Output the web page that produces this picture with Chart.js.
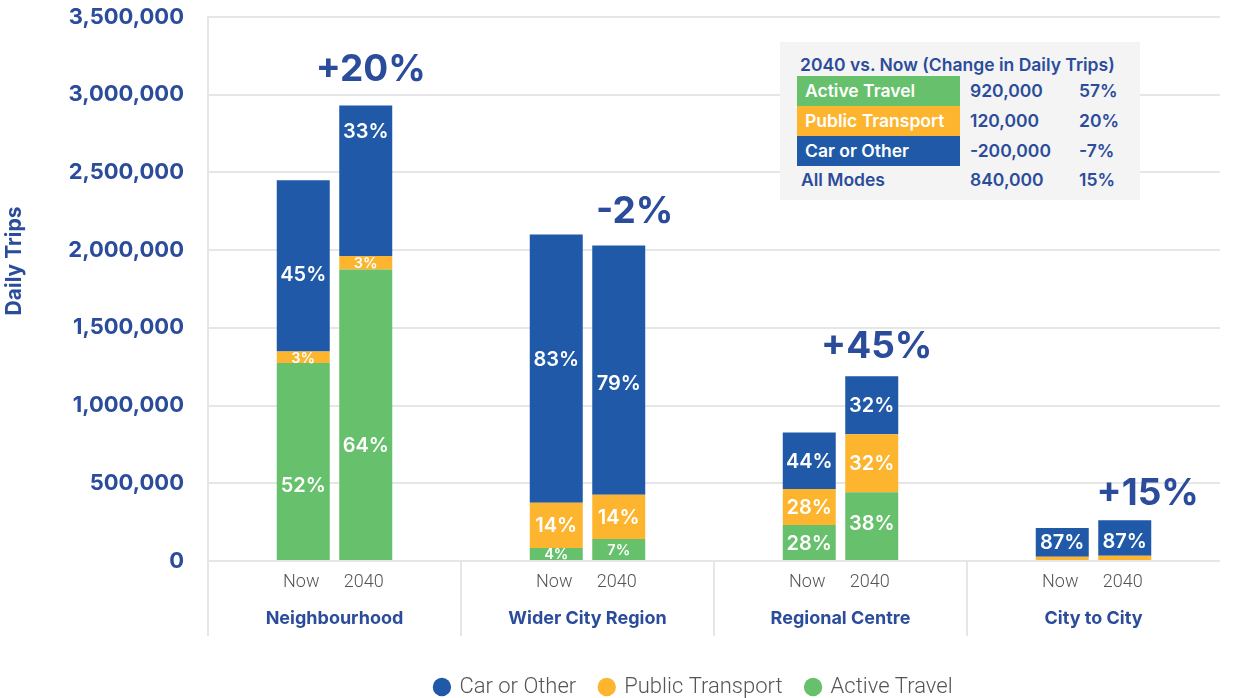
<!DOCTYPE html>
<html>
<head>
<meta charset="utf-8">
<title>Daily Trips by Journey Type</title>
<script src="https://cdn.jsdelivr.net/npm/chart.js@4.4.1/dist/chart.umd.min.js"></script>
<style>
  html, body { margin: 0; padding: 0; background: #ffffff; }
  #wrap { position: relative; width: 1235px; height: 698px; overflow: hidden; }
  #chart { position: absolute; left: 0; top: 0; }
  #summary {
    position: absolute; left: 780px; top: 42px; width: 360px; height: 158px;
    background: #f4f4f4; font-family: Inter, "Noto Sans", sans-serif;
    font-weight: 600; font-size: 17.5px; color: #2b4c9b;
  }
  #summary .title { position: absolute; left: 20px; top: 12px; white-space: nowrap; }
  #summary .row { position: absolute; left: 0; width: 360px; height: 30px; line-height: 30px; }
  #summary .mode { position: absolute; left: 17px; width: 163px; height: 100%; padding-left: 8px; box-sizing: border-box; color: #ffffff; }
  #summary .mode.plain { color: #2b4c9b; padding-left: 4px; }
  #summary .num { position: absolute; left: 190px; }
  #summary .pct { position: absolute; left: 299px; }
</style>
</head>
<body>
<div id="wrap">
  <canvas id="chart" width="1235" height="698"></canvas>
  <div id="summary"></div>
</div>
<script>
// ---- data ----
const categories = ['Neighbourhood', 'Wider City Region', 'Regional Centre', 'City to City'];
const periods = ['Now', '2040'];

// total daily trips per journey type
const totalsNow  = [2450000, 2080000, 826000, 212000];
const totals2040 = [2930000, 2030000, 1165000, 262000];

// mode share of each total (%)
const activeShareNow  = [52, 4, 28, 0];
const publicShareNow  = [3, 14, 28, 13];
const carShareNow     = [45, 83, 44, 87];
const activeShare2040 = [64, 7, 38, 0];
const publicShare2040 = [3, 14, 32, 13];
const carShare2040    = [33, 79, 32, 87];

// overall change per journey type, 2040 vs now
const changeLabels = ['+20%', '-2%', '+45%', '+15%'];

const yTickValues = [0, 500000, 1000000, 1500000, 2000000, 2500000, 3000000, 3500000];

// summary table: 2040 vs. Now
const summaryTitle = '2040 vs. Now (Change in Daily Trips)';
const summaryModes = ['Active Travel', 'Public Transport', 'Car or Other', 'All Modes'];
const summaryChange = [920000, 120000, -200000, 840000];
const summaryChangePct = [57, 20, -7, 15];

// ---- styling ----
const COLORS = { car: '#1f59a7', pt: '#fdb52f', active: '#67c06b' };
const TEXT_BLUE = '#2b4c9b';
const GRID = '#e6e6e6';

// vertical nudges (px) for share labels inside the taller segments
const shareLabelNudge = {
  'Active Travel|Now':     [23, 0, 0, 0],
  'Public Transport|Now':  [0, 0, 0, 0],
  'Car or Other|Now':      [8, -10, 0, 0],
  'Active Travel|2040':    [30, 0, -3, 0],
  'Public Transport|2040': [0, 0, 0, 0],
  'Car or Other|2040':     [-50, 13, 0, 3]
};
const changeLabelDx = [5, 16, 5, 23];
const changeLabelGap = [25, 22, 18, 15];
const legendShift = 84;

const segment = (totals, shares) => totals.map((t, i) => t * shares[i] / 100);

function makeDataset(label, period, totals, shares, color) {
  return {
    label: label,
    stack: period,
    period: period,
    shares: shares,
    data: segment(totals, shares),
    backgroundColor: color,
    borderWidth: 0,
    categoryPercentage: 0.494,
    barPercentage: 0.848
  };
}

const datasets = [
  makeDataset('Active Travel', 'Now', totalsNow, activeShareNow, COLORS.active),
  makeDataset('Public Transport', 'Now', totalsNow, publicShareNow, COLORS.pt),
  makeDataset('Car or Other', 'Now', totalsNow, carShareNow, COLORS.car),
  makeDataset('Active Travel', '2040', totals2040, activeShare2040, COLORS.active),
  makeDataset('Public Transport', '2040', totals2040, publicShare2040, COLORS.pt),
  makeDataset('Car or Other', '2040', totals2040, carShare2040, COLORS.car)
];

// share (%) labels inside each segment, "Now"/"2040" under each bar,
// change labels above the 2040 bars and the rotated y-axis title
const annotations = {
  id: 'annotations',
  afterLayout(chart) {
    // move the legend row to sit under the middle of the bar groups
    if (chart.legend) {
      chart.legend.left += legendShift;
      chart.legend.right += legendShift;
    }
  },
  afterDatasetsDraw(chart) {
    const ctx = chart.ctx;
    ctx.save();
    ctx.textAlign = 'center';
    ctx.textBaseline = 'middle';
    chart.data.datasets.forEach((ds, di) => {
      const meta = chart.getDatasetMeta(di);
      const nudges = shareLabelNudge[ds.label + '|' + ds.period] || [];
      meta.data.forEach((bar, i) => {
        const share = ds.shares[i];
        const h = Math.abs(bar.base - bar.y);
        if (!share || h < 8) return;
        const small = h < 24;
        ctx.font = (small ? '600 14.5px' : '600 20px') + ' Inter, sans-serif';
        ctx.fillStyle = '#ffffff';
        ctx.fillText(share + '%', bar.x, (bar.y + bar.base) / 2 + 1 + (nudges[i] || 0));
      });
    });

    // period labels under the bars
    const area = chart.chartArea;
    ctx.font = '300 18px Roboto, sans-serif';
    ctx.fillStyle = '#555555';
    [0, 3].forEach((di) => {
      const meta = chart.getDatasetMeta(di);
      meta.data.forEach((bar) => {
        ctx.fillText(chart.data.datasets[di].period, bar.x - 2, area.bottom + 21);
      });
    });

    // change labels above the 2040 stacks
    const top2040 = chart.getDatasetMeta(5);
    ctx.font = '700 37px Inter, sans-serif';
    ctx.fillStyle = TEXT_BLUE;
    ctx.textBaseline = 'alphabetic';
    top2040.data.forEach((bar, i) => {
      ctx.fillText(changeLabels[i], bar.x + changeLabelDx[i], bar.y - changeLabelGap[i]);
    });

    // y-axis title
    ctx.translate(15, 261);
    ctx.rotate(-Math.PI / 2);
    ctx.textBaseline = 'middle';
    ctx.font = '700 21px Inter, sans-serif';
    ctx.fillText('Daily Trips', 0, 0);
    ctx.restore();
  }
};

new Chart(document.getElementById('chart'), {
  type: 'bar',
  data: { labels: categories, datasets: datasets },
  plugins: [annotations],
  options: {
    responsive: false,
    animation: false,
    layout: { padding: { top: 17, right: 15, left: 0, bottom: -10 } },
    plugins: {
      tooltip: { enabled: false },
      legend: {
        position: 'bottom',
        labels: {
          usePointStyle: true,
          pointStyle: 'circle',
          boxWidth: 13,
          boxHeight: 13,
          padding: 24,
          color: '#555555',
          font: { family: 'Roboto', weight: '300', size: 22 },
          filter: (item) => item.datasetIndex < 3,
          sort: (a, b) => b.datasetIndex - a.datasetIndex
        }
      }
    },
    scales: {
      x: {
        stacked: true,
        grid: {
          offset: true,
          drawOnChartArea: false,
          drawTicks: true,
          tickLength: 75,
          lineWidth: 2,
          color: (c) => (c.tick ? GRID : 'rgba(0,0,0,0)')
        },
        border: { display: false },
        ticks: {
          padding: -28,
          color: TEXT_BLUE,
          font: { family: 'Inter', weight: '700', size: 18 }
        },
        afterFit: (scale) => { scale.height = 91; }
      },
      y: {
        stacked: true,
        min: 0,
        max: 3500000,
        afterBuildTicks: (scale) => { scale.ticks = yTickValues.map((v) => ({ value: v })); },
        grid: {
          color: GRID,
          lineWidth: 2,
          drawTicks: true,
          tickLength: 24,
          tickColor: 'rgba(0,0,0,0)'
        },
        border: { display: true, color: GRID, width: 2 },
        ticks: {
          padding: 0,
          color: TEXT_BLUE,
          font: { family: 'Inter', weight: '700', size: 22 },
          callback: (v) => Number(v).toLocaleString('en-US')
        },
        afterFit: (scale) => { scale.width = 208; }
      }
    }
  }
});

// summary table
const summary = document.getElementById('summary');
const title = document.createElement('div');
title.className = 'title';
title.textContent = summaryTitle;
summary.appendChild(title);
const rowColors = [COLORS.active, COLORS.pt, COLORS.car, null];
const rowTops = [34, 64, 94, 123];
summaryModes.forEach((m, i) => {
  const row = document.createElement('div');
  row.className = 'row';
  row.style.top = rowTops[i] + 'px';
  const mode = document.createElement('div');
  mode.className = 'mode' + (rowColors[i] ? '' : ' plain');
  if (rowColors[i]) mode.style.background = rowColors[i];
  mode.textContent = m;
  const num = document.createElement('div');
  num.className = 'num';
  num.textContent = summaryChange[i].toLocaleString('en-US');
  const pct = document.createElement('div');
  pct.className = 'pct';
  pct.textContent = summaryChangePct[i] + '%';
  row.appendChild(mode);
  row.appendChild(num);
  row.appendChild(pct);
  summary.appendChild(row);
});
</script>
